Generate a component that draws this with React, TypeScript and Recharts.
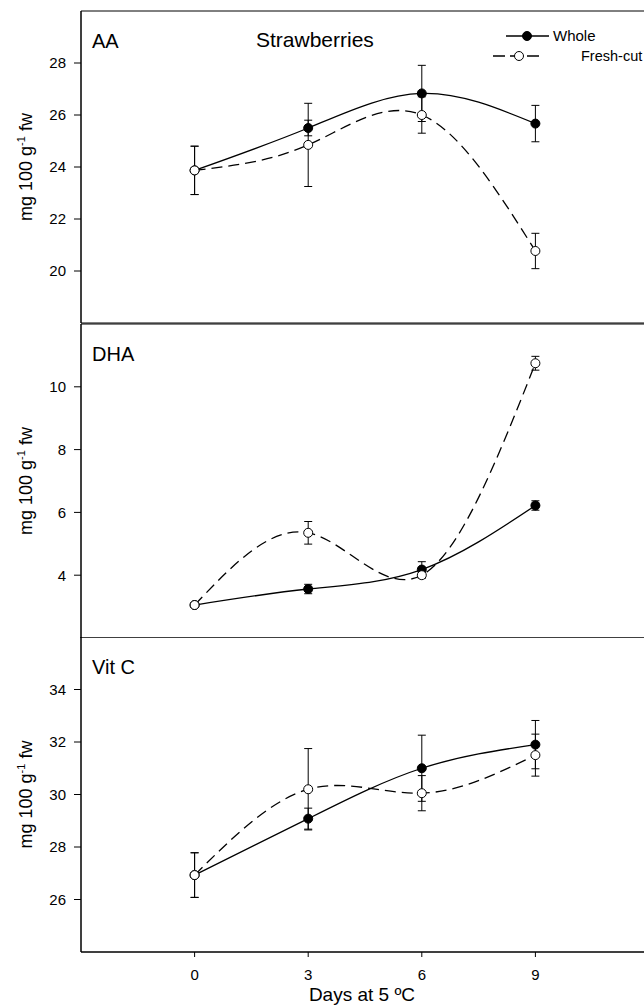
import { Customized, ErrorBar, Line, LineChart, ReferenceArea, XAxis, YAxis } from 'recharts';

const days = [0, 3, 6, 9];

// AA
const aaWhole = [23.87, 25.5, 26.83, 25.67];
const aaWholeSe = [0.93, 0.3, 1.08, 0.7];
const aaFresh = [23.87, 24.85, 26.0, 20.77];
const aaFreshSe = [0.93, 1.6, 0.7, 0.68];

// DHA
const dhaWhole = [3.05, 3.56, 4.18, 6.22];
const dhaWholeSe = [0.05, 0.15, 0.25, 0.15];
const dhaFresh = [3.05, 5.35, 4.0, 10.75];
const dhaFreshSe = [0.05, 0.36, 0.1, 0.22];

// Vit C
const vcWhole = [26.93, 29.08, 31.0, 31.9];
const vcWholeSe = [0.85, 0.4, 1.26, 0.92];
const vcFresh = [26.93, 30.2, 30.05, 31.5];
const vcFreshSe = [0.85, 1.55, 0.67, 0.8];

const aaTicks = [20, 22, 24, 26, 28];
const dhaTicks = [4, 6, 8, 10];
const vcTicks = [26, 28, 30, 32, 34];

const font = '"Liberation Sans", Arial, sans-serif';

function rows(whole: number[], wholeSe: number[], fresh: number[], freshSe: number[]) {
  return days.map((d, i) => ({ day: d, whole: whole[i], wholeSe: wholeSe[i], fresh: fresh[i], freshSe: freshSe[i] }));
}

const YLabel = (props: any) => {
  const vb = props.viewBox || { y: 0, height: 0 };
  const cx = 32;
  const cy = vb.y + vb.height / 2;
  return (
    <text x={cx} y={cy} transform={`rotate(-90, ${cx}, ${cy})`} textAnchor="middle" fontSize={18} fontFamily={font} fill="#000">
      mg 100 g<tspan dy={-7} fontSize={11}>-1</tspan>
      <tspan dy={7}> fw</tspan>
    </text>
  );
};

const XLabel = (props: any) => {
  const vb = props.viewBox || { y: 0 };
  return (
    <text x={362} y={vb.y + 49} textAnchor="middle" fontSize={19} fontFamily={font} fill="#000">
      Days at 5 ºC
    </text>
  );
};

const Legendish = () => (
  <g fontFamily={font} fontSize={15} fill="#000">
    <line x1={506} y1={36} x2={549} y2={36} stroke="#000" strokeWidth={1.3} />
    <circle cx={527} cy={36} r={4.5} fill="#000" stroke="#000" />
    <text x={553} y={41}>Whole</text>
    <line x1={493} y1={56} x2={542} y2={56} stroke="#000" strokeWidth={1.3} strokeDasharray="12 5" />
    <circle cx={519} cy={56} r={4.5} fill="#fff" stroke="#000" />
    <text x={581} y={61} fontSize={14.5}>Fresh-cut</text>
    <text x={256} y={47} fontSize={21}>Strawberries</text>
  </g>
);

interface PanelProps {
  title: string;
  data: any[];
  yDomain: [number, number];
  yTicks: number[];
  top: number;
  height: number;
  mTop: number;
  mBottom: number;
  showX?: boolean;
  legend?: boolean;
}

function Panel({ title, data, yDomain, yTicks, top, height, mTop, mBottom, showX, legend }: PanelProps) {
  return (
    <div style={{ position: 'absolute', left: 0, top }}>
      <LineChart width={660} height={height} data={data} margin={{ top: mTop, right: 11, bottom: mBottom, left: 0 }}>
        <ReferenceArea x1={-3} x2={12} y1={yDomain[0]} y2={yDomain[1]} fill="none" stroke="#000" strokeWidth={1} />
        {showX ? (
          <XAxis
            dataKey="day"
            type="number"
            domain={[-3, 12]}
            ticks={days}
            height={54}
            tickSize={5}
            tickMargin={12}
            tick={{ fontSize: 15, fill: '#000', fontFamily: font }}
            axisLine={{ stroke: '#000' }}
            tickLine={{ stroke: '#000' }}
            label={{ content: XLabel }}
            allowDataOverflow
          />
        ) : (
          <XAxis dataKey="day" type="number" domain={[-3, 12]} hide allowDataOverflow />
        )}
        <YAxis
          type="number"
          domain={yDomain}
          ticks={yTicks}
          width={81}
          tickSize={7}
          tickMargin={8}
          tick={{ fontSize: 15, fill: '#000', fontFamily: font }}
          axisLine={{ stroke: '#000' }}
          tickLine={{ stroke: '#000' }}
          label={{ content: YLabel }}
          allowDataOverflow
        />
        <Line
          type="natural"
          dataKey="whole"
          stroke="#000"
          strokeWidth={1.3}
          dot={{ r: 4.5, fill: '#000', stroke: '#000', strokeWidth: 1 }}
          activeDot={false}
          isAnimationActive={false}>
          <ErrorBar dataKey="wholeSe" direction="y" width={4} stroke="#000" strokeWidth={1} />
        </Line>
        <Line
          type="natural"
          dataKey="fresh"
          stroke="#000"
          strokeWidth={1.3}
          strokeDasharray="11 6"
          dot={{ r: 4.5, fill: '#fff', stroke: '#000', strokeWidth: 1, strokeDasharray: '' }}
          activeDot={false}
          isAnimationActive={false}>
          <ErrorBar dataKey="freshSe" direction="y" width={4} stroke="#000" strokeWidth={1} />
        </Line>
        <Customized
          component={() => (
            <text x={92} y={mTop + 37} fontSize={20} fontFamily={font} fill="#000">
              {title}
            </text>
          )}
        />
        {legend && <Customized component={Legendish} />}
      </LineChart>
    </div>
  );
}

export default function App() {
  return (
    <div style={{ position: 'absolute', left: 0, top: 0, width: 644, height: 1006, overflow: 'hidden', background: '#fff' }}>
      <Panel title="AA" data={rows(aaWhole, aaWholeSe, aaFresh, aaFreshSe)} yDomain={[18, 30]} yTicks={aaTicks} top={0} height={324} mTop={11} mBottom={1} legend />
      <Panel title="DHA" data={rows(dhaWhole, dhaWholeSe, dhaFresh, dhaFreshSe)} yDomain={[2, 12]} yTicks={dhaTicks} top={323} height={315} mTop={1} mBottom={0} />
      <Panel title="Vit C" data={rows(vcWhole, vcWholeSe, vcFresh, vcFreshSe)} yDomain={[24, 36]} yTicks={vcTicks} top={637} height={369} mTop={0} mBottom={0} showX />
    </div>
  );
}
